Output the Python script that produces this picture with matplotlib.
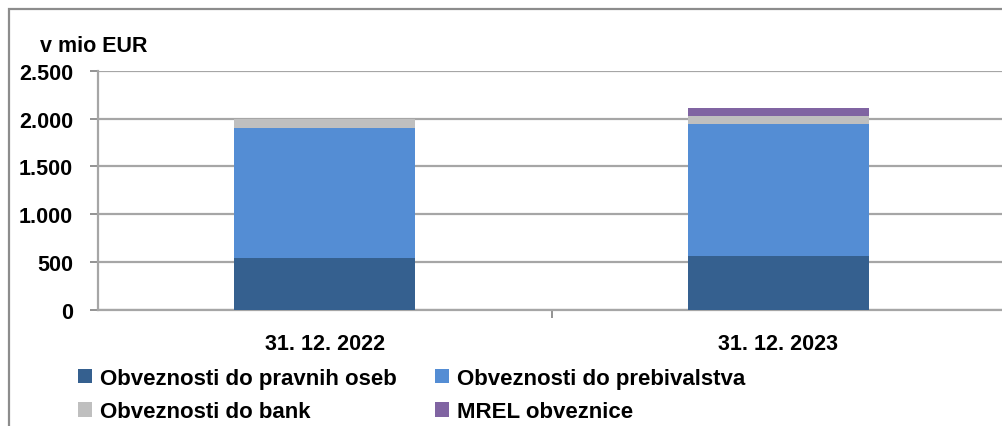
import matplotlib
matplotlib.use("Agg")
import matplotlib.pyplot as plt
from matplotlib.patches import Rectangle, Patch
import numpy as np

categories = ["31. 12. 2022", "31. 12. 2023"]
series_names = ["Obveznosti do pravnih oseb", "Obveznosti do prebivalstva",
                "Obveznosti do bank", "MREL obveznice"]
pravne = [540, 560]
prebivalstvo = [1360, 1386]
banke = [100, 81]
mrel = [0, 84]
yticks = [0, 500, 1000, 1500, 2000, 2500]
ytick_labels = ["0", "500", "1.000", "1.500", "2.000", "2.500"]
colors = ["#35608F", "#548DD4", "#BFBFBF", "#8064A2"]

W, H = 1002, 427
fig = plt.figure(figsize=(W / 100, H / 100), dpi=100)
font = "Liberation Sans"
fs = 15.5

# outer frame
fig.patches.append(Rectangle((9 / W, -0.1), 1.2, 1 - 10 / H + 0.1, transform=fig.transFigure,
                             fill=False, edgecolor="#8C8C8C", linewidth=1.6))

ax = fig.add_axes([98 / W, 1 - 310.7 / H, (1005 - 98) / W, (310.7 - 72) / H])
x = np.arange(len(categories))
data = [pravne, prebivalstvo, banke, mrel]
bottom = np.zeros(len(categories))
for vals, c, name in zip(data, colors, series_names):
    ax.bar(x, vals, width=0.4, bottom=bottom, color=c, label=name, zorder=3, linewidth=0)
    bottom += np.array(vals)

ax.set_xlim(-0.5, 1.5)
ax.set_ylim(0, 2500)
ax.set_yticks(yticks)
ax.set_yticklabels(ytick_labels, fontsize=fs, fontweight="bold", family=font)
ax.yaxis.grid(True, color="#A6A6A6", linewidth=1.6, zorder=0)
ax.set_xticks(x)
ax.set_xticklabels(categories, fontsize=fs, fontweight="bold", family=font)
ax.set_xticks([0.5], minor=True)
ax.tick_params(axis="x", which="major", length=0, pad=17)
ax.tick_params(axis="x", which="minor", length=6, color="#808080", width=1.2)
ax.tick_params(axis="y", length=6, color="#808080", width=1.2, pad=12)
for s in ["top", "right"]:
    ax.spines[s].set_visible(False)
for s in ["left", "bottom"]:
    ax.spines[s].set_color("#A6A6A6")
    ax.spines[s].set_linewidth(1.6)

fig.text(40 / W, 1 - 47 / H, "v mio EUR", fontsize=15.5, fontweight="bold", family=font,
         va="center", ha="left")

handles = [Patch(facecolor=c, label=n) for c, n in zip(colors, series_names)]
order = [0, 2, 1, 3]
lfs = 16
leg = fig.legend(handles=[handles[i] for i in order], loc="upper left",
                 bbox_to_anchor=(78 / W, 1 - 369 / H),
                 ncol=2, frameon=False, prop={"family": font, "weight": "bold", "size": lfs},
                 handlelength=0.63, handleheight=0.63, handletextpad=0.36,
                 columnspacing=1.7, labelspacing=0.55, borderpad=0, borderaxespad=0)

fig.savefig("out.png", dpi=100)
